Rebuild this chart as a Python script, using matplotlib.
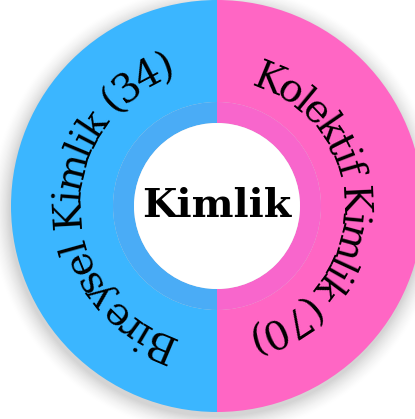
import numpy as np
import matplotlib
matplotlib.use("Agg")
import matplotlib.pyplot as plt
from matplotlib.patches import Circle
from matplotlib.font_manager import FontProperties, findfont, get_font

# data
root_label = "Kimlik"
segment_names = ["Bireysel Kimlik", "Kolektif Kimlik"]
segment_counts = [34, 70]
segment_shares = [50, 50]  # both halves are drawn the same size
outer_colors = ["#3bb6ff", "#ff66c4"]
inner_colors = ["#4aacf6", "#f866cc"]

DPI = 100
W, H = 415, 419
CX, CY = 217, H - 206
R_OUTER = 206
R_RING = 104
R_HOLE = 83
LABEL_PT = 28.5
TITLE_PT = 28.5
SERIF = "DejaVu Serif"


def char_advances(text, prop):
    font = get_font(findfont(prop))
    font.set_size(prop.get_size_in_points(), DPI)
    return np.array([font.load_char(ord(ch)).linearHoriAdvance / 65536.0 for ch in text])


def curved_label(ax, text, center_deg, r_base, r_space):
    """Lay the text clockwise along the ring, tops of letters pointing outward."""
    prop = FontProperties(family=SERIF, size=LABEL_PT)
    adv = char_advances(text, prop)
    total = adv.sum()
    offsets = np.cumsum(adv) - adv / 2 - total / 2
    for ch, s in zip(text, offsets):
        theta = center_deg - np.degrees(s / r_space)
        t = np.radians(theta)
        x = CX + r_base * np.cos(t)
        y = CY + r_base * np.sin(t)
        ax.text(x, y, ch, fontproperties=prop, rotation=theta - 90,
                rotation_mode="anchor", ha="center", va="baseline", color="black")


fig = plt.figure(figsize=(W / DPI, H / DPI), dpi=DPI)
ax = fig.add_axes([0, 0, 1, 1])

# soft drop shadow
for k in range(16):
    ax.add_patch(Circle((CX - 1, CY - 4), R_OUTER + 1 + k * 1.2, color="black",
                        alpha=0.004 + 0.0008 * (16 - k), lw=0, zorder=0))

ax.pie(segment_shares, radius=R_OUTER, center=(CX, CY), startangle=90,
       colors=outer_colors, wedgeprops={"width": R_OUTER - R_RING, "linewidth": 0})
ax.pie(segment_shares, radius=R_RING, center=(CX, CY), startangle=90,
       colors=inner_colors, wedgeprops={"width": R_RING - R_HOLE, "linewidth": 0})
ax.add_patch(Circle((CX, CY), R_HOLE, color="white", lw=0, zorder=3))

labels = [f"{n} ({c})" for n, c in zip(segment_names, segment_counts)]
curved_label(ax, labels[0], 180, r_base=137, r_space=158)
curved_label(ax, labels[1], -2, r_base=125, r_space=149)

ax.text(CX, H - 217, root_label, family=SERIF, weight="bold", size=TITLE_PT,
        ha="center", va="baseline", zorder=4)

ax.set_xlim(0, W)
ax.set_ylim(0, H)
ax.set_aspect("auto")
ax.axis("off")
fig.savefig("out.png", dpi=DPI, facecolor="white")
